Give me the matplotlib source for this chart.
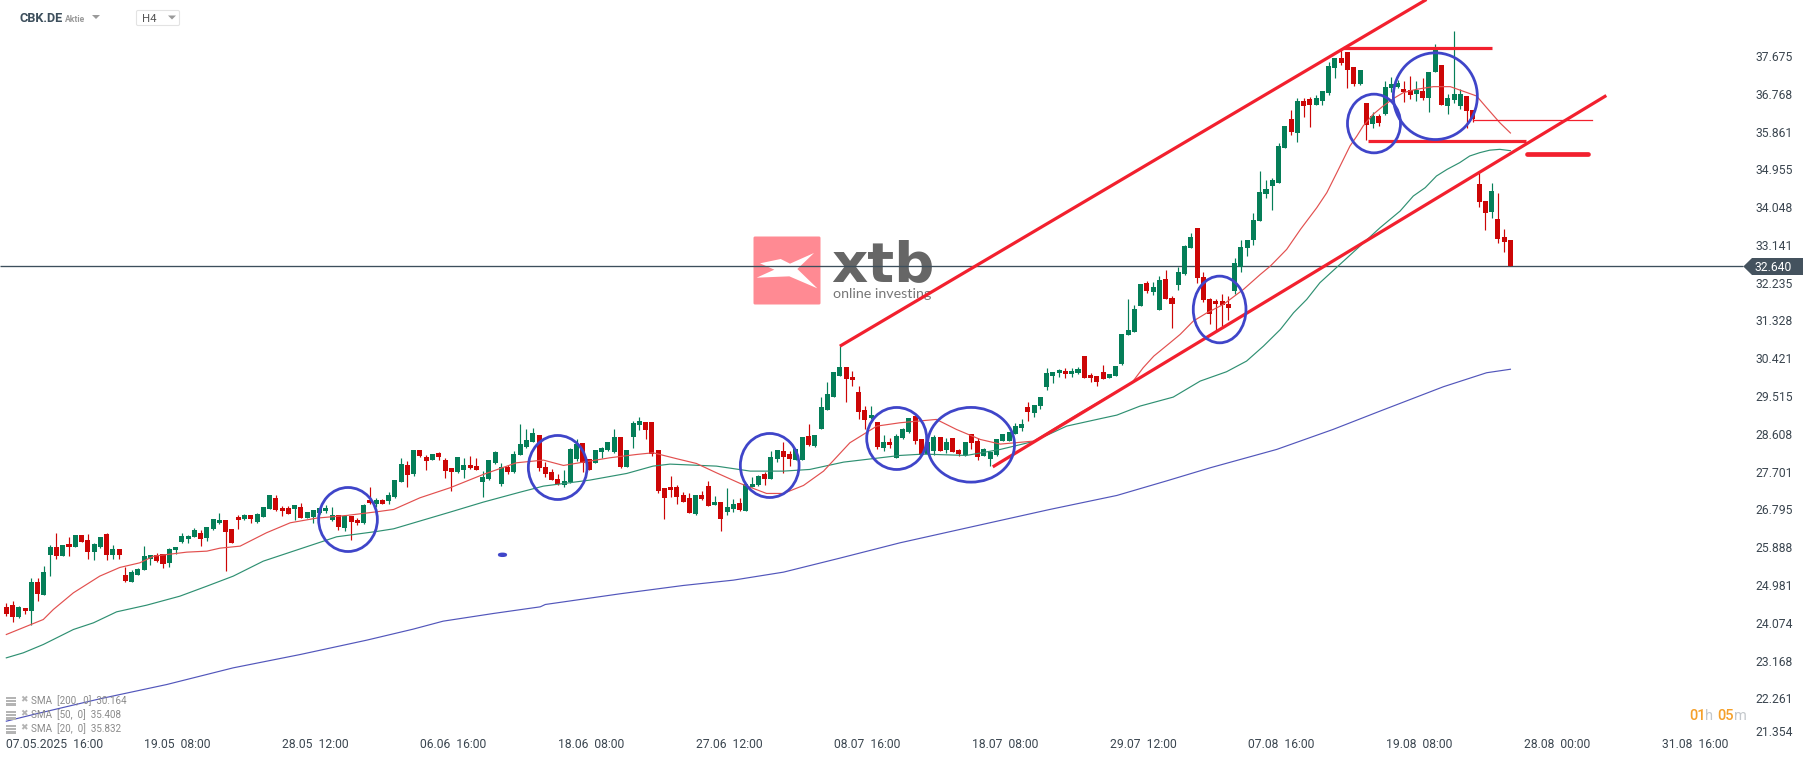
import matplotlib
matplotlib.use('Agg')
import matplotlib.pyplot as plt
from matplotlib.patches import Ellipse, Polygon, FancyBboxPatch, Rectangle

plt.rcParams['font.family'] = ['Roboto', 'DejaVu Sans']

# candle colours, one letter per 4h candle
directions = ("RRGRGRGGRG" "RGRRGGRGRR" "GGGGRRGGGG" "GRGGGRRRGR" "GGGRRRGRGG" "GGGRGRRGRG"
              "RGGGRGRRGR" "RRGGRRGGGG" "RGGGGRRRRG" "GGRRGGGGRG" "GGRRRRRRRR" "GRRGRGGRGG"
              "GRGGRRGGRG" "GGGGRRRRGR" "GRGGGRRGGR" "GRRGRRGGGG" "GGGRGGGGGR" "GGRRRRGGGG"
              "GGRGGRRGGG" "RRRRRRGGGG" "GGGGGRGRRG" "GGGRRRGRGR" "GGGRRGRGGR" "GGGRRRRGRRR")

body_top = [
    24.448, 24.496, 24.448, 24.424, 25.048, 25.048, 25.288, 25.888, 25.888, 25.936,
    25.96, 26.176, 26.176, 26.056, 25.96, 26.128, 26.2, 25.84, 25.84, 25.216,
    25.288, 25.36, 25.672, 25.696, 25.696, 25.72, 25.84, 25.888, 26.152, 26.152,
    26.296, 26.224, 26.368, 26.56, 26.536, 26.536, 26.32, 26.608, 26.656, 26.656,
    26.68, 26.848, 27.136, 27.064, 26.824, 26.824, 26.896, 26.848, 26.728, 26.776,
    26.824, 26.824, 26.656, 26.656, 26.632, 26.632, 26.536, 26.896, 27.016, 27.016,
    27.016, 27.136, 27.496, 27.88, 27.856, 28.216, 28.216, 28.048, 28.12, 28.144,
    27.976, 27.784, 28.048, 27.856, 27.856, 27.832, 27.568, 27.976, 28.168, 27.808,
    27.808, 28.12, 28.36, 28.456, 28.624, 28.576, 27.808, 27.688, 27.52, 27.472,
    28.24, 28.36, 28.384, 28.0, 28.216, 28.264, 28.408, 28.528, 28.528, 28.216,
    28.864, 28.912, 28.888, 28.888, 28.216, 27.304, 27.328, 27.328, 27.136, 27.064,
    27.136, 27.136, 27.352, 26.968, 26.968, 26.848, 26.92, 26.944, 27.4, 27.4,
    27.592, 27.64, 28.048, 28.216, 28.192, 28.12, 28.24, 28.528, 28.552, 28.576,
    29.248, 29.56, 30.088, 30.208, 30.208, 29.968, 29.608, 29.176, 29.056, 28.888,
    28.408, 28.408, 28.552, 28.72, 28.984, 29.032, 28.48, 28.408, 28.528, 28.528,
    28.408, 28.504, 28.216, 28.408, 28.6, 28.432, 28.24, 28.168, 28.48, 28.6,
    28.648, 28.792, 28.84, 29.248, 29.296, 29.488, 30.064, 30.088, 30.136, 30.112,
    30.112, 30.16, 30.472, 30.016, 29.992, 30.088, 30.04, 30.232, 31.0, 31.096,
    31.6, 32.2, 32.224, 32.128, 32.296, 32.32, 31.864, 32.488, 33.112, 33.328,
    33.544, 32.368, 31.84, 31.792, 31.792, 31.72, 32.704, 33.088, 33.256, 33.736,
    34.408, 34.48, 34.696, 35.512, 35.992, 36.16, 36.592, 36.592, 36.64, 36.664,
    36.832, 37.432, 37.624, 37.624, 37.768, 37.408, 37.336, 36.544, 36.232, 36.232,
    36.928, 37.0, 37.024, 36.88, 36.856, 36.856, 36.832, 37.288, 37.84, 37.456,
    36.664, 36.76, 36.76, 36.712, 36.376, 34.6, 34.192, 34.432, 33.76, 33.328, 33.256]

body_bottom = [
    24.28, 24.208, 24.208, 24.352, 24.352, 24.76, 24.736, 25.696, 25.672, 25.672,
    25.888, 25.888, 26.008, 25.768, 25.768, 25.888, 25.696, 25.696, 25.696, 25.072,
    25.048, 25.216, 25.336, 25.6, 25.552, 25.48, 25.504, 25.816, 26.008, 26.08,
    26.128, 26.08, 26.104, 26.32, 26.464, 26.248, 25.984, 26.536, 26.56, 26.56,
    26.488, 26.608, 26.8, 26.776, 26.752, 26.68, 26.8, 26.584, 26.584, 26.608,
    26.704, 26.752, 26.536, 26.368, 26.344, 26.488, 26.464, 26.464, 26.944, 26.92,
    26.92, 26.992, 27.088, 27.448, 27.616, 27.64, 28.072, 27.952, 27.976, 28.048,
    27.712, 27.688, 27.688, 27.736, 27.784, 27.736, 27.448, 27.52, 27.904, 27.4,
    27.688, 27.688, 28.096, 28.288, 28.408, 27.784, 27.64, 27.496, 27.4, 27.376,
    27.448, 28.0, 27.904, 27.736, 27.904, 28.168, 28.216, 28.168, 27.808, 27.808,
    28.528, 28.816, 28.696, 28.12, 27.232, 27.064, 27.256, 27.088, 26.968, 26.704,
    26.68, 27.04, 26.872, 26.896, 26.56, 26.728, 26.8, 26.776, 26.752, 27.328,
    27.376, 27.52, 27.52, 28.0, 28.048, 28.0, 27.976, 27.976, 28.336, 28.312,
    28.72, 29.176, 29.488, 29.992, 29.92, 29.896, 29.128, 28.936, 28.984, 28.288,
    28.264, 28.336, 28.024, 28.504, 28.648, 28.432, 28.096, 28.12, 28.192, 28.192,
    28.216, 28.168, 28.12, 28.096, 28.384, 28.048, 28.072, 28.0, 28.096, 28.432,
    28.432, 28.6, 28.744, 29.128, 29.104, 29.272, 29.728, 29.992, 30.064, 30.04,
    30.04, 30.064, 29.944, 29.944, 29.848, 29.92, 29.944, 29.992, 30.28, 30.976,
    31.048, 31.672, 32.032, 32.008, 31.576, 31.84, 31.72, 32.176, 32.44, 33.064,
    32.344, 31.816, 31.48, 31.72, 31.696, 31.624, 32.032, 32.608, 33.064, 33.256,
    33.712, 34.36, 34.552, 34.624, 35.464, 35.848, 35.824, 36.472, 36.496, 36.496,
    36.592, 36.784, 37.384, 37.504, 37.336, 37.0, 37.0, 36.016, 36.04, 36.064,
    36.28, 36.904, 36.928, 36.808, 36.736, 36.76, 36.664, 36.664, 37.288, 36.496,
    36.472, 36.616, 36.472, 36.352, 36.16, 34.168, 33.904, 33.928, 33.28, 33.208, 32.64]

wick_high = [
    24.544, 24.592, 24.472, 24.424, 25.144, 25.144, 25.432, 25.936, 26.224, 25.936,
    26.128, 26.176, 26.176, 26.2, 25.984, 26.128, 26.224, 25.936, 25.84, 25.408,
    25.336, 25.384, 25.912, 25.696, 25.744, 25.72, 25.864, 25.888, 26.224, 26.176,
    26.344, 26.296, 26.368, 26.56, 26.704, 26.536, 26.32, 26.656, 26.68, 26.656,
    26.704, 26.848, 27.136, 27.136, 26.872, 26.872, 26.896, 26.944, 26.728, 26.776,
    26.848, 26.896, 26.848, 26.656, 26.656, 26.632, 26.584, 26.92, 27.328, 27.064,
    27.04, 27.208, 27.496, 28.024, 27.952, 28.216, 28.216, 28.096, 28.12, 28.168,
    28.024, 27.784, 28.048, 28.024, 28.072, 28.024, 27.712, 27.976, 28.192, 27.904,
    27.856, 28.192, 28.84, 28.72, 28.744, 28.576, 27.928, 27.76, 27.64, 27.736,
    28.264, 28.48, 28.384, 28.0, 28.216, 28.288, 28.408, 28.72, 28.528, 28.216,
    28.912, 29.008, 28.888, 28.888, 28.216, 27.304, 27.592, 27.376, 27.208, 27.184,
    27.136, 27.232, 27.472, 27.112, 26.968, 27.304, 27.04, 27.064, 27.4, 27.568,
    27.616, 27.688, 28.192, 28.216, 28.408, 28.192, 28.24, 28.528, 28.84, 28.576,
    29.488, 29.848, 30.088, 30.712, 30.208, 30.112, 29.752, 29.272, 29.272, 28.888,
    28.576, 28.504, 28.6, 28.744, 28.984, 29.032, 28.48, 28.408, 28.576, 28.528,
    28.504, 28.504, 28.24, 28.408, 28.6, 28.504, 28.264, 28.192, 28.48, 28.6,
    28.648, 28.864, 28.96, 29.368, 29.296, 29.488, 30.184, 30.088, 30.16, 30.184,
    30.184, 30.208, 30.472, 30.064, 29.992, 30.256, 30.04, 30.232, 31.0, 31.84,
    31.696, 32.2, 32.272, 32.248, 32.392, 32.536, 31.912, 32.608, 33.136, 33.424,
    33.544, 32.488, 31.864, 31.84, 31.96, 31.912, 32.824, 33.256, 33.256, 33.904,
    34.912, 34.696, 34.744, 35.584, 35.992, 36.376, 36.664, 36.664, 36.688, 36.736,
    36.832, 37.528, 37.624, 37.864, 37.768, 37.408, 37.336, 36.544, 36.328, 36.28,
    37.072, 37.168, 37.096, 37.072, 37.192, 37.072, 37.144, 37.288, 37.96, 37.456,
    36.76, 38.272, 36.88, 36.712, 36.376, 34.864, 34.192, 34.624, 34.384, 33.52, 33.256]

wick_low = [
    24.24, 24.096, 24.184, 24.288, 24.032, 24.592, 24.736, 25.192, 25.6, 25.672,
    25.672, 25.888, 26.008, 25.6, 25.576, 25.864, 25.576, 25.6, 25.6, 25.048,
    25.048, 25.216, 25.336, 25.456, 25.528, 25.384, 25.408, 25.72, 25.984, 25.984,
    26.128, 25.912, 26.032, 26.296, 26.44, 25.312, 25.984, 26.32, 26.536, 26.464,
    26.464, 26.608, 26.8, 26.752, 26.632, 26.68, 26.536, 26.584, 26.584, 26.464,
    26.68, 26.704, 26.512, 26.296, 26.272, 26.056, 26.416, 26.44, 26.92, 26.848,
    26.92, 26.92, 27.064, 27.448, 27.328, 27.592, 28.048, 27.736, 27.976, 27.976,
    27.544, 27.232, 27.664, 27.544, 27.76, 27.736, 27.088, 27.496, 27.88, 27.352,
    27.64, 27.664, 28.096, 28.264, 28.408, 27.712, 27.568, 27.496, 27.376, 27.328,
    27.424, 27.952, 27.688, 27.736, 27.904, 28.024, 28.192, 28.144, 27.784, 27.808,
    28.264, 28.696, 28.48, 28.072, 27.184, 26.56, 27.088, 26.92, 26.968, 26.704,
    26.656, 27.016, 26.872, 26.896, 26.272, 26.656, 26.728, 26.752, 26.752, 27.328,
    27.352, 27.376, 27.52, 27.928, 27.664, 27.832, 27.976, 27.976, 28.312, 28.288,
    28.72, 29.176, 29.488, 29.992, 29.368, 29.752, 28.96, 28.72, 28.96, 28.24,
    28.192, 28.264, 28.024, 28.48, 28.624, 28.36, 28.096, 28.096, 28.096, 28.192,
    28.144, 28.168, 28.072, 28.072, 28.24, 27.976, 28.072, 27.832, 28.072, 28.432,
    28.432, 28.6, 28.672, 28.912, 29.008, 29.2, 29.656, 29.824, 29.968, 29.944,
    29.968, 30.04, 29.944, 29.848, 29.752, 29.92, 29.944, 29.992, 30.256, 30.976,
    31.048, 31.672, 31.984, 31.936, 31.576, 31.84, 31.144, 32.056, 32.416, 33.064,
    32.224, 31.768, 31.24, 31.072, 31.192, 31.336, 31.96, 32.488, 32.872, 33.136,
    33.712, 34.264, 33.976, 34.624, 35.464, 35.776, 35.608, 36.208, 35.968, 36.496,
    36.496, 36.736, 37.144, 37.456, 36.904, 36.952, 36.976, 35.656, 35.944, 35.992,
    36.256, 36.808, 36.904, 36.568, 36.64, 36.592, 36.616, 36.328, 37.288, 36.496,
    36.28, 36.544, 36.4, 35.944, 36.088, 34.048, 33.496, 33.784, 33.184, 32.968, 32.64]

# moving averages at their bends: candle number, price
sma20_x = [0, 5.9, 7.5, 10.7, 14.9, 18.1, 21.3, 23.5, 28.8, 32, 34.1, 37.3, 41.5, 45.3, 49.5, 54.3, 59.1,
           61.8, 66, 70.8, 76.1, 81.4, 85.7, 88.9, 92.1, 96.3, 100.6, 103.2, 107, 110.1, 113.3, 117.1,
           121.3, 124, 127.2, 130.4, 134.6, 138.9, 142.6, 148.4, 151.6, 155.4, 158.6, 163.9, 171.3, 179.6,
           181.4, 183.1, 185.7, 187.3, 189.4, 191.6, 194.2, 197.4, 200.1, 201.7, 204.3, 206.5, 209.1, 210.7,
           212.3, 214.4, 215.5, 216.5, 218.1, 219.7, 221.3, 222.9, 225, 227.7, 230.4, 234.6, 236.2, 238.3, 240]
sma20_y = [23.8, 24.16, 24.4, 24.8, 25.2, 25.408, 25.52, 25.68, 25.776, 25.8, 25.872, 25.92, 26.24, 26.48,
           26.592, 26.656, 26.744, 26.8, 27.08, 27.32, 27.64, 27.92, 27.984, 27.856, 27.936, 28.04, 28.12,
           28.16, 28.016, 27.904, 27.68, 27.424, 27.184, 27.184, 27.376, 27.72, 28.4, 28.8, 28.88, 28.96,
           28.72, 28.48, 28.368, 28.44, 29.12, 29.84, 30.2, 30.48, 30.8, 31.0, 31.32, 31.52, 31.72, 32.08,
           32.44, 32.64, 33.04, 33.52, 34.04, 34.4, 34.88, 35.52, 35.76, 36.0, 36.28, 36.48, 36.656, 36.8,
           36.88, 36.944, 36.944, 36.72, 36.44, 36.08, 35.832]

sma50_x = [0, 2.7, 5.9, 10.7, 13.9, 17.6, 22.4, 27.7, 32, 36.2, 41, 45.8, 52.7, 59.1, 61.8, 70.8, 76.1, 82,
           85.7, 93.1, 99, 103.2, 105.9, 113.3, 118.7, 124, 128.2, 133.6, 142.6, 146.3, 153.2, 158.6, 163.9,
           169.2, 174.5, 177.2, 180.9, 186.2, 190.5, 194.7, 197.9, 200.6, 203.3, 205.4, 207.5, 209.6, 212.8,
           216, 219.2, 222.4, 224.5, 226.4, 228.2, 229.9, 231.9, 233.5, 235.1, 236.7, 238.3, 240]
sma50_y = [23.24, 23.36, 23.56, 23.92, 24.08, 24.344, 24.504, 24.72, 24.96, 25.2, 25.56, 25.8, 26.144, 26.272,
           26.336, 26.736, 26.976, 27.216, 27.36, 27.504, 27.664, 27.84, 27.888, 27.84, 27.72, 27.72, 27.76,
           27.936, 28.096, 28.128, 28.096, 28.24, 28.432, 28.8, 28.976, 29.064, 29.28, 29.496, 29.88, 30.104,
           30.36, 30.72, 31.12, 31.52, 31.84, 32.24, 32.68, 33.12, 33.56, 33.96, 34.32, 34.52, 34.8, 34.96,
           35.12, 35.28, 35.36, 35.42, 35.44, 35.408]

sma200_x = [0, 4.3, 14.9, 25.6, 36.2, 46.9, 57.5, 64.9, 69.7, 77.7, 85.2, 86, 97.9, 108, 116, 124, 133, 142.6,
            158.6, 166.5, 177.2, 185.2, 192.1, 202.7, 211.7, 219.2, 229.3, 236.2, 240]
sma200_y = [21.72, 21.88, 22.256, 22.6, 23.0, 23.32, 23.664, 23.928, 24.12, 24.304, 24.464, 24.52, 24.776,
            24.976, 25.104, 25.296, 25.632, 26.0, 26.536, 26.8, 27.136, 27.488, 27.8, 28.24, 28.72, 29.16,
            29.744, 30.08, 30.164]

last_price = 32.64

# hand drawn analysis: x0, x1, y0, y1 in candle number and price
thick_lines = [(133.0, 226.6, 30.717, 39.035),
               (157.4, 255.3, 27.822, 36.731),
               (213.3, 237.1, 37.875, 37.875),
               (217.2, 242.5, 35.643, 35.643)]
thin_level = (234.1, 253.0, 36.147)
target_bar = (242.6, 252.4, 35.331)

circle_x = [54.52, 87.98, 121.81, 142.07, 153.93, 193.6, 218.23, 228.02, 79.17]
circle_y = [26.559, 27.807, 27.855, 28.503, 28.352, 31.598, 36.06, 36.715, 25.712]
circle_w = [9.37, 9.37, 9.37, 9.57, 13.88, 8.41, 8.46, 13.4, 1.0]
circle_h = [1.536, 1.536, 1.536, 1.488, 1.792, 1.6, 1.408, 2.08, 0.04]

price_ticks = [37.675, 36.768, 35.861, 34.955, 34.048, 33.141, 32.235, 31.328, 30.421, 29.515,
               28.608, 27.701, 26.795, 25.888, 24.981, 24.074, 23.168, 22.261]
time_labels = ['19.05  08:00', '28.05  12:00', '06.06  16:00', '18.06  08:00', '27.06  12:00', '08.07  16:00',
               '18.07  08:00', '29.07  12:00', '07.08  16:00', '19.08  08:00', '28.08  00:00', '31.08  16:00']
legend_labels = ['SMA  [200,  0]  30.164', 'SMA  [50,  0]  35.408', 'SMA  [20,  0]  35.832']

GREEN = '#057e58'
RED = '#cc0606'
TREND = '#f2202e'
BLUE = '#3f45c9'
TEXT = '#3b4650'

fig = plt.figure(figsize=(18.15, 7.61), dpi=100)

# pixel layer behind the chart for the watermark
bg = fig.add_axes([0, 0, 1, 1], zorder=0)
bg.set_xlim(0, 1815)
bg.set_ylim(761, 0)
bg.axis('off')
bg.add_patch(FancyBboxPatch((753.5, 236.5), 67, 68, boxstyle='round,pad=0,rounding_size=1.5', fc='#ff8a93', ec='none'))
star = [(60, 115), (122, 102), (150, 116), (222, 84), (172, 132), (232, 190), (148, 154), (50, 158), (103, 134)]
bg.add_patch(Polygon([(740 + a / 3, 225 + b / 3) for a, b in star], fc='white', ec='none'))
bg.text(831, 281, 'xtb', family='DejaVu Sans', weight='bold', fontsize=40.5, color='#666666', va='baseline', ha='left')
bg.text(833, 294, 'online investing', family='Lato', fontsize=10.3, color='#777777', va='center', ha='left')

# chart layer, axis limits chosen so price and candle number land where they do in the platform
ax = fig.add_axes([0, 0, 1, 1], zorder=1)
ax.patch.set_alpha(0)
ax.set_xlim(-1.01, 288.6)
ax.set_ylim(20.765, 39.023)
ax.axis('off')

ax.hlines(last_price, -1.01, 277.1, color='#3d4f5c', lw=0.95, zorder=2)

candle_x = list(range(len(directions)))
colors = [GREEN if d == 'G' else RED for d in directions]
ax.vlines(candle_x, wick_low, wick_high, colors=colors, lw=0.85, zorder=3)
ax.bar(candle_x, [t - b for t, b in zip(body_top, body_bottom)], bottom=body_bottom, width=0.8,
       color=colors, linewidth=0, zorder=3)

ax.plot(sma200_x, sma200_y, color='#5256bb', lw=0.85, zorder=4)
ax.plot(sma50_x, sma50_y, color='#2f9072', lw=0.85, zorder=4)
ax.plot(sma20_x, sma20_y, color='#e2504f', lw=0.85, zorder=4)

for x0, x1, y0, y1 in thick_lines:
    ax.plot([x0, x1], [y0, y1], color=TREND, lw=2.3, solid_capstyle='butt', zorder=5)
ax.plot(thin_level[:2], [thin_level[2]] * 2, color=TREND, lw=0.9, zorder=5)
ax.plot(target_bar[:2], [target_bar[2]] * 2, color=TREND, lw=3.4, solid_capstyle='round', zorder=5)

for cx, cy, w, h in zip(circle_x, circle_y, circle_w, circle_h):
    ax.add_patch(Ellipse((cx, cy), w, h, fill=False, ec=BLUE, lw=2.0, zorder=6))

for p in price_ticks:
    ax.text(279.03, p - 0.03, f'{p:.3f}', fontsize=8.7, color=TEXT, va='center', ha='left', zorder=7)
ax.text(279.03, 21.46, '21.354', fontsize=8.7, color=TEXT, va='center', ha='left', zorder=7)

# pixel layer on top for the platform controls
ui = fig.add_axes([0, 0, 1, 1], zorder=2)
ui.patch.set_alpha(0)
ui.set_xlim(0, 1815)
ui.set_ylim(761, 0)
ui.axis('off')

ui.add_patch(Polygon([(1743.3, 266.5), (1752, 258), (1803, 258), (1803, 275), (1752, 275)], fc='#44525e', ec='none'))
ui.text(1755, 267.5, '32.640', fontsize=8.7, color='white', va='center', ha='left')

ui.text(20, 19, 'CBK.DE', fontsize=9.2, weight='bold', color='#3d4f5c', va='center', ha='left')
ui.text(65, 19.5, 'Aktie', fontsize=6.2, weight='bold', color='#9a9a9a', va='center', ha='left')
ui.add_patch(Polygon([(92, 15), (100, 15), (96, 19)], fc='#9a9a9a', ec='none'))
ui.add_patch(FancyBboxPatch((136.5, 10.5), 43, 15, boxstyle='round,pad=0,rounding_size=1.5', fc='white', ec='#e3e3e3', lw=0.8))
ui.text(142, 19, 'H4', fontsize=8.2, color='#555555', va='center', ha='left')
ui.add_patch(Polygon([(168, 15.5), (176, 15.5), (172, 19.5)], fc='#9a9a9a', ec='none'))

ui.text(6, 745, '07.05.2025  16:00', fontsize=8.7, color=TEXT, va='center', ha='left')
for i, label in enumerate(time_labels):
    ui.text(177 + 138 * i, 745, label, fontsize=8.7, color=TEXT, va='center', ha='center')

for i, label in enumerate(legend_labels):
    y = 701 + 14 * i
    for k in range(3):
        ui.add_patch(Rectangle((6, y - 4.5 + 3.4 * k), 10, 2.2, fc='#b4b4b4', ec='none'))
    ui.text(23.5, y - 1, '\u2716', family='DejaVu Sans', fontsize=6.5, color='#b4b4b4', va='center', ha='center')
    ui.text(31, y, label, fontsize=7.1, color='#8a8a8a', va='center', ha='left')

ui.text(1689, 716, '01', fontsize=10.5, weight='medium', color='#f5a02a', va='center', ha='left')
ui.text(1705, 716, 'h', fontsize=10.5, color='#c4c8cc', va='center', ha='left')
ui.text(1717, 716, '05', fontsize=10.5, weight='medium', color='#f5a02a', va='center', ha='left')
ui.text(1734, 716, 'm', fontsize=10.5, color='#c4c8cc', va='center', ha='left')

fig.savefig('out.png', dpi=100, facecolor='white')
